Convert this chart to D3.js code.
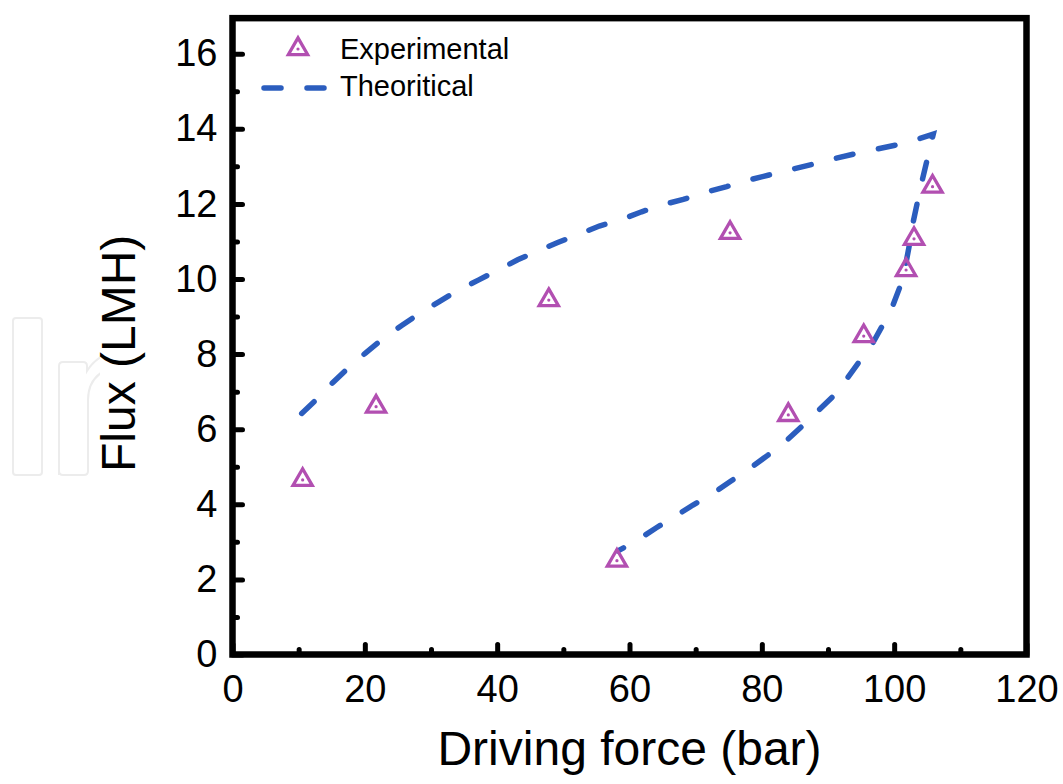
<!DOCTYPE html>
<html>
<head>
<meta charset="utf-8">
<script src="https://cdn.jsdelivr.net/npm/d3@7"></script>
<style>
  body { margin: 0; background: #fff; }
  svg { display: block; font-family: 'Liberation Sans', Arial, sans-serif; }
</style>
</head>
<body>
<div id="chart"></div>
<script>
// Data

const expX = [10.6, 21.7, 47.8, 75.2, 84.0, 95.4, 101.8, 103.0, 105.8, 58.1];
const expY = [4.65, 6.6, 9.44, 11.23, 6.38, 8.48, 10.24, 11.07, 12.46, 2.5];

// theoretical curve: upper branch then back down the lower branch
const theoX = [10.46, 12.62, 15.14, 17.41, 20.18, 22.55, 25.46, 28.08, 31.25, 33.88,
  37.15, 39.93, 43.1, 45.87, 49.15, 52.02, 55.43, 58.56, 61.84, 64.86,
  68.13, 71.26, 74.69, 77.71, 81.08, 84.1, 87.53, 90.56, 93.97, 97.1,
  100.38, 103.49, 105.91,
  105.15, 104.31, 103.64, 102.89, 102.39, 101.78, 100.98, 99.77, 98.26,
  96.6, 94.73, 92.72, 90.8, 88.38, 86.02, 83.5, 80.93, 78.06, 75.34,
  72.46, 69.59, 66.72, 64.0, 60.98, 58.26];
const theoY = [6.42, 6.78, 7.24, 7.62, 8.04, 8.38, 8.75, 9.06, 9.4, 9.68,
  9.97, 10.22, 10.51, 10.73, 10.97, 11.17, 11.41, 11.57, 11.79, 11.97,
  12.12, 12.3, 12.46, 12.62, 12.77, 12.9, 13.05, 13.19, 13.33, 13.45,
  13.57, 13.72, 13.86,
  13.3, 12.68, 12.15, 11.53, 10.99, 10.42, 9.84, 9.28, 8.77,
  8.24, 7.8, 7.31, 6.88, 6.47, 6.07, 5.66, 5.31, 4.94, 4.62,
  4.27, 3.98, 3.66, 3.37, 3.02, 2.76];

const xMajor = [0, 20, 40, 60, 80, 100, 120];
const xMinor = [10, 30, 50, 70, 90, 110];
const yMajor = [0, 2, 4, 6, 8, 10, 12, 14, 16];
const yMinor = [1, 3, 5, 7, 9, 11, 13, 15];

const seriesNames = ['Experimental', 'Theoritical'];

function buildChart() {
  const width = 1063;
  const height = 784;
  const left = 232.5;
  const right = 1026.5;
  const bottom = 654.5;
  const top = bottom - 17 * 37.55;

  const purple = '#b24fb1';
  const blue = '#2b5dbe';

  const svg = d3.select('#chart').append('svg')
    .attr('width', width)
    .attr('height', height);

  // faint watermark on the left (cut off by the y label box)
  svg.append('clipPath').attr('id', 'wmclip')
    .append('rect').attr('x', 0).attr('y', 0).attr('width', 100).attr('height', 784);
  const wm = svg.append('g')
    .attr('clip-path', 'url(#wmclip)')
    .attr('fill', 'none')
    .attr('stroke', '#ececec')
    .attr('stroke-width', 2);
  wm.append('rect')
    .attr('x', 13).attr('y', 318).attr('width', 29).attr('height', 157).attr('rx', 3);
  wm.append('path')
    .attr('d', 'M59,475 L59,366 Q59,362 63,362 L83,362 Q87,362 87,366 L87,371 Q93,361 104,355 M104,371 Q88,380 88,400 L88,471 Q88,475 84,475 L63,475 Q59,475 59,471');

  const xScale = d3.scaleLinear().domain([0, 120]).range([left, right]);
  const yScale = d3.scaleLinear().domain([0, 17]).range([bottom, top]);

  // X axis
  svg.append('g')
    .attr('transform', `translate(0, ${bottom})`)
    .call(d3.axisBottom(xScale).tickValues(xMajor).tickSizeInner(-10).tickSizeOuter(0).tickPadding(21));
  svg.append('g')
    .attr('transform', `translate(0, ${bottom})`)
    .call(d3.axisBottom(xScale).tickValues(xMinor).tickSizeInner(-5).tickSizeOuter(0).tickFormat(''));

  // Y axis
  svg.append('g')
    .attr('transform', `translate(${left}, 0)`)
    .call(d3.axisLeft(yScale).tickValues(yMajor).tickSizeInner(-10).tickSizeOuter(0).tickPadding(15));
  svg.append('g')
    .attr('transform', `translate(${left}, 0)`)
    .call(d3.axisLeft(yScale).tickValues(yMinor).tickSizeInner(-5).tickSizeOuter(0).tickFormat(''));

  svg.selectAll('.domain').remove();
  svg.selectAll('.tick line')
    .attr('stroke', '#000')
    .attr('stroke-width', 5)
    .attr('stroke-linecap', 'round');
  svg.selectAll('.tick text')
    .attr('fill', '#000')
    .style('font-size', '38px')
    .style('font-family', "'Liberation Sans', Arial, sans-serif");

  // frame
  svg.append('rect')
    .attr('x', left)
    .attr('y', top + 2)
    .attr('width', right - left)
    .attr('height', bottom - top - 2)
    .attr('fill', 'none')
    .attr('stroke', '#000')
    .attr('stroke-width', 6.5);

  // theoretical line
  const theo = theoX.map((x, i) => [x, theoY[i]]);
  const line = d3.line()
    .x((d) => xScale(d[0]))
    .y((d) => yScale(d[1]));
  svg.append('path')
    .datum(theo)
    .attr('d', line)
    .attr('fill', 'none')
    .attr('stroke', blue)
    .attr('stroke-width', 5.5)
    .attr('stroke-linecap', 'round')
    .attr('stroke-dasharray', '17 26');

  // experimental points
  const tri = d3.symbol().type(d3.symbolTriangle).size(160);
  const pts = svg.selectAll('.pt')
    .data(expX.map((x, i) => [x, expY[i]]))
    .enter()
    .append('g')
    .attr('class', 'pt')
    .attr('transform', (d) => `translate(${xScale(d[0])}, ${yScale(d[1])})`);
  pts.append('path')
    .attr('d', tri)
    .attr('fill', 'none')
    .attr('stroke', purple)
    .attr('stroke-width', 3.3);
  pts.append('circle')
    .attr('r', 1.6)
    .attr('fill', purple);

  // legend
  const legend = svg.append('g');
  const lm = legend.append('g').attr('transform', 'translate(298, 49)');
  lm.append('path').attr('d', tri).attr('fill', 'none').attr('stroke', purple).attr('stroke-width', 3.3);
  lm.append('circle').attr('r', 1.6).attr('fill', purple);
  legend.append('line')
    .attr('x1', 264).attr('x2', 326)
    .attr('y1', 88).attr('y2', 88)
    .attr('stroke', blue)
    .attr('stroke-width', 5.5)
    .attr('stroke-linecap', 'round')
    .attr('stroke-dasharray', '17 26');
  legend.selectAll('text')
    .data(seriesNames)
    .enter()
    .append('text')
    .attr('x', 340)
    .attr('y', (d, i) => 59 + i * 37)
    .style('font-size', '29px')
    .text((d) => d);

  // axis titles
  svg.append('text')
    .attr('x', (left + right) / 2)
    .attr('y', 765)
    .attr('text-anchor', 'middle')
    .style('font-size', '48px')
    .text('Driving force (bar)');

  svg.append('text')
    .attr('transform', `translate(135, ${(top + bottom) / 2 + 18}) rotate(-90)`)
    .attr('text-anchor', 'middle')
    .style('font-size', '48px')
    .text('Flux (LMH)');
}

buildChart();
</script>
</body>
</html>
